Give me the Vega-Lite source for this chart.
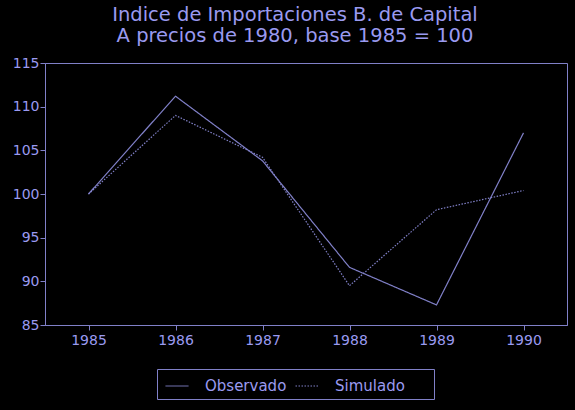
{
  "$schema": "https://vega.github.io/schema/vega-lite/v6.json",
  "width": 522,
  "height": 262,
  "autosize": {"type": "none"},
  "padding": {"left": 45, "top": 63, "right": 8, "bottom": 85},
  "background": "#000000",
  "title": {
    "text": ["Indice de Importaciones B. de Capital", "A precios de 1980, base 1985 = 100"],
    "anchor": "middle",
    "frame": "group",
    "dx": -11,
    "offset": 10,
    "font": "DejaVu Sans",
    "fontSize": 19.5,
    "fontWeight": "normal",
    "lineHeight": 21,
    "color": "#9a9af0"
  },
  "config": {
    "view": {"stroke": "#8080c8", "strokeWidth": 1},
    "axis": {
      "grid": false,
      "domainColor": "#8080c8",
      "tickColor": "#8080c8",
      "labelColor": "#9a9af0",
      "labelFont": "DejaVu Sans",
      "labelFontSize": 14,
      "tickSize": 5,
      "title": null
    },
    "legend": {
      "labelColor": "#9a9af0",
      "labelFont": "DejaVu Sans",
      "labelFontSize": 15
    }
  },
  "data": {
    "values": [
      {"anio": 1985, "serie": "Observado", "valor": 100.0},
      {"anio": 1986, "serie": "Observado", "valor": 111.2},
      {"anio": 1987, "serie": "Observado", "valor": 103.8},
      {"anio": 1988, "serie": "Observado", "valor": 91.6},
      {"anio": 1989, "serie": "Observado", "valor": 87.3},
      {"anio": 1990, "serie": "Observado", "valor": 107.0},
      {"anio": 1985, "serie": "Simulado", "valor": 100.0},
      {"anio": 1986, "serie": "Simulado", "valor": 109.0},
      {"anio": 1987, "serie": "Simulado", "valor": 104.2},
      {"anio": 1988, "serie": "Simulado", "valor": 89.5},
      {"anio": 1989, "serie": "Simulado", "valor": 98.2},
      {"anio": 1990, "serie": "Simulado", "valor": 100.4}
    ]
  },
  "mark": {"type": "line", "color": "#8080c8", "strokeWidth": 1.2},
  "encoding": {
    "x": {
      "field": "anio",
      "type": "quantitative",
      "scale": {"domain": [1984.5, 1990.5], "nice": false, "zero": false},
      "axis": {"values": [1985, 1986, 1987, 1988, 1989, 1990], "format": "d", "labelPadding": 3}
    },
    "y": {
      "field": "valor",
      "type": "quantitative",
      "scale": {"domain": [85, 115], "nice": false, "zero": false},
      "axis": {"values": [85, 90, 95, 100, 105, 110, 115], "labelPadding": 1}
    },
    "strokeDash": {
      "field": "serie",
      "type": "nominal",
      "scale": {"domain": ["Observado", "Simulado"], "range": [[1, 0], [1.5, 1.5]]},
      "legend": {
        "title": null,
        "orient": "none",
        "direction": "horizontal",
        "legendX": 112,
        "legendY": 306,
        "strokeColor": "#8080c8",
        "padding": 5,
        "symbolType": "stroke",
        "symbolSize": 529,
        "symbolOffset": 3,
        "symbolStrokeColor": "#8080c8",
        "symbolStrokeWidth": 1,
        "columnPadding": 5,
        "labelOffset": 16,
        "labelLimit": 300,
        "labelExpr": "datum.label == 'Simulado' ? 'Simulado     \u200b' : datum.label"
      }
    }
  }
}
